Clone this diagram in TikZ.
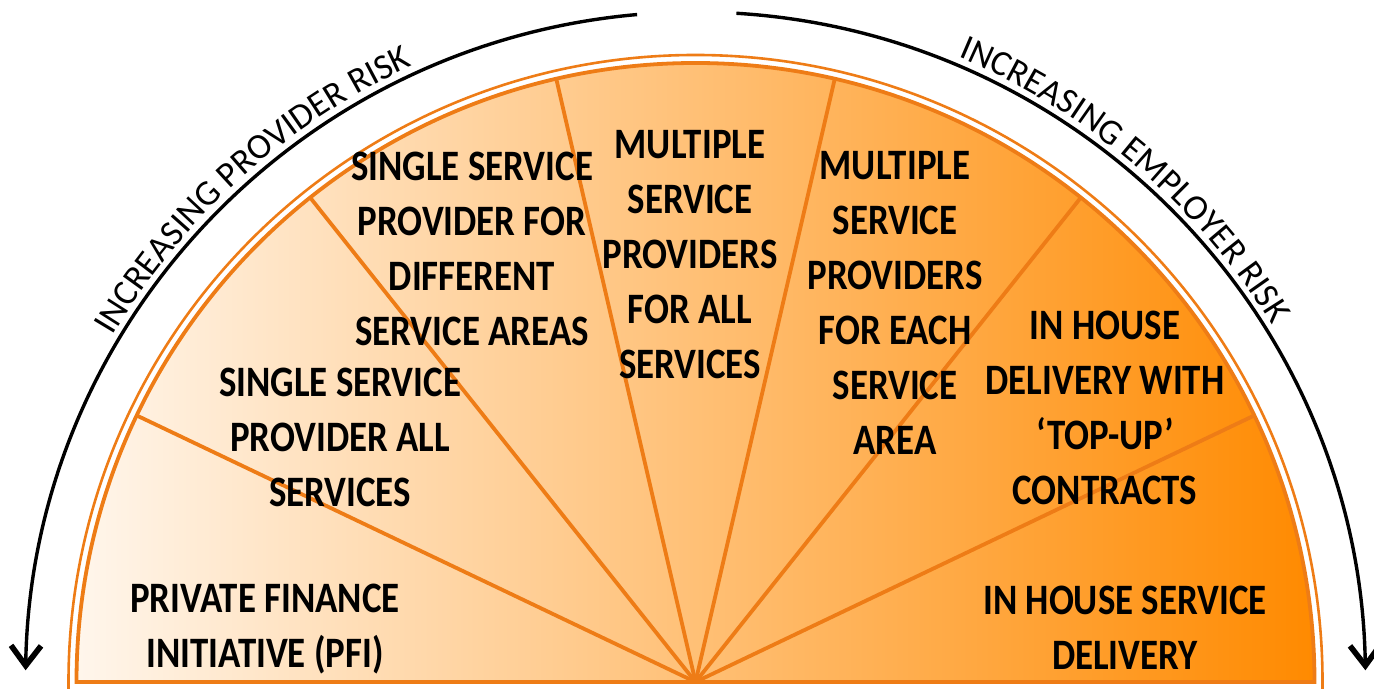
\documentclass[tikz,border=0pt]{standalone}
\usepackage{fontspec}
\setmainfont{Carlito}
\newfontfamily\boxfont{Carlito}[FakeStretch=0.85]
\usetikzlibrary{arrows.meta,decorations.text}
\definecolor{fanlight}{RGB}{255,246,236}
\definecolor{fanmid}{RGB}{253,186,112}
\definecolor{fandark}{RGB}{255,138,0}
\definecolor{fanedge}{RGB}{238,124,22}
\newcommand\riskfont{\fontsize{17.9pt}{21pt}\selectfont}

\begin{document}
\begin{tikzpicture}[x=0.5pt,y=0.5pt,
  fanline/.style={draw=fanedge,line width=1.9pt},
  rimline/.style={draw=fanedge,line width=1.3pt},
  riskarc/.style={line width=1.7pt,-{Straight Barb[length=10pt,width=15pt,line width=2.8pt]}},
  sector/.style={align=center,inner sep=0pt,font=\boxfont\bfseries\fontsize{21.7pt}{27.5pt}\selectfont}]
\useasboundingbox (0,0) rectangle (1374,689);
\coordinate (c) at (695.5,7);

\shade[left color=fanlight,middle color=fanmid,right color=fandark] (c) ++(-619,0) arc[start angle=180,end angle=0,radius=619] -- cycle;
\draw[fanline] (c) ++(-619,0) arc[start angle=180,end angle=0,radius=619] -- cycle;
\draw[rimline] (c) ++(-627,-8) -- ++(0,8) arc[start angle=180,end angle=0,radius=627] -- ++(0,-8);
\foreach \a in {25.5,51.5,77,103,128.5,154.5}
  \draw[fanline] (c) -- ++(\a:619);

\node (pfi) at (265,60)[sector]{PRIVATE FINANCE\\INITIATIVE (PFI)};
\node (ssa) at (340,252)[sector]{SINGLE SERVICE\\PROVIDER ALL\\SERVICES};
\node (ssd) at (472,440)[sector]{SINGLE SERVICE\\PROVIDER FOR\\DIFFERENT\\SERVICE AREAS};
\node (mpa) at (690,434)[sector]{MULTIPLE\\SERVICE\\PROVIDERS\\FOR ALL\\SERVICES};
\node (mpe) at (895,386)[sector]{MULTIPLE\\SERVICE\\PROVIDERS\\FOR EACH\\SERVICE\\AREA};
\node (iht) at (1105,281)[sector]{IN HOUSE\\DELIVERY WITH\\‘TOP-UP’\\CONTRACTS};
\node (ihs) at (1125,61)[sector]{IN HOUSE SERVICE\\DELIVERY};

\begin{scope}[shift={(c)}]
\draw[riskarc] (95:670) arc[start angle=95,end angle=179,radius=670];
\draw[riskarc] (86.5:670) arc[start angle=86.5,end angle=1,radius=670];
\path[decorate,decoration={text along path,text align=center,text={|\riskfont|INCREASING PROVIDER RISK}}] (160:678) arc[start angle=160,end angle=104,radius=678];
\path[decorate,decoration={text along path,text align=center,text={|\riskfont|INCREASING EMPLOYER RISK}}] (77.5:678) arc[start angle=77.5,end angle=21.5,radius=678];
\end{scope}
\end{tikzpicture}
\end{document}
